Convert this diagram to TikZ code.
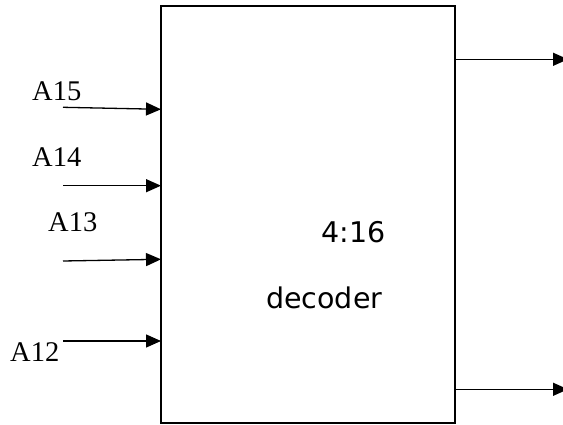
\documentclass[tikz,border=0pt]{standalone}
\usepackage{fontspec}
\setmainfont{Liberation Serif}
\newfontfamily\dejasans{DejaVu Sans}
\usetikzlibrary{arrows.meta}
\begin{document}
\begin{tikzpicture}[x=1pt,y=-1pt,
  lbl/.style={anchor=base west,inner sep=0pt,font=\fontsize{28.5}{30}\selectfont},
  txt/.style={anchor=base west,inner sep=0pt,font=\dejasans\fontsize{28.5}{30}\selectfont},
  sig/.style={line width=1.3pt,-{Triangle[length=15pt,width=13pt]}},
  blk/.style={draw,line width=1.6pt,inner sep=0pt}]
\useasboundingbox (0,0) rectangle (563,425);
\node[blk,minimum width=294pt,minimum height=417pt] (dec) at (308,214.5) {};
% labels
\node[lbl] (l15) at (32,101) {A15};
\node[lbl] (l14) at (32,166.7) {A14};
\node[lbl] (l13) at (48,231.7) {A13};
\node[lbl] (l12) at (10,361.7) {A12};
\node[txt] (t1) at (321.5,242.7) {4:16};
\node[txt] (t2) at (266,308.3) {decoder};
% inputs
\coordinate (i15) at (63,107.3);  \coordinate (e15) at (161,109.3);
\coordinate (i14) at (63,185.7);  \coordinate (e14) at (161,185.7);
\coordinate (i13) at (63,261);    \coordinate (e13) at (161,259.3);
\coordinate (i12) at (63,341);    \coordinate (e12) at (161,341);
\draw[sig] (i15) -- (e15);
\draw[sig] (i14) -- (e14);
\draw[sig] (i13) -- (e13);
\draw[sig] (i12) -- (e12);
% outputs
\coordinate (s1) at (455,59.3);  \coordinate (o1) at (568,59.3);
\coordinate (s2) at (455,389.3); \coordinate (o2) at (568,389.3);
\draw[sig] (s1) -- (o1);
\draw[sig] (s2) -- (o2);
\end{tikzpicture}
\end{document}
